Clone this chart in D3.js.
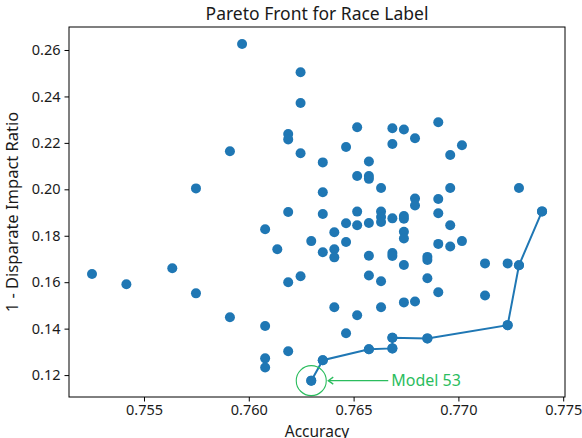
<!DOCTYPE html>
<html>
<head>
<meta charset="utf-8">
<script src="https://cdn.jsdelivr.net/npm/d3@7"></script>
<style>
  html, body { margin: 0; padding: 0; background: #fff; }
  svg { display: block; }
  .tick text { font-family: "Noto Sans", sans-serif; font-size: 14.5px; fill: #1a1a1a; }
</style>
</head>
<body>
<svg id="chart" width="582" height="438"></svg>
<script>
// Accuracy and (1 - disparate impact ratio) for every evaluated model
const accuracy = [
  0.75968, 0.76247, 0.76247, 0.76188, 0.76188, 0.75910, 0.76247, 0.75748, 0.76188, 0.76353,
  0.76464, 0.76353, 0.76353, 0.76517, 0.76685, 0.76740, 0.76904, 0.76793, 0.76685, 0.76961,
  0.77017, 0.76573, 0.76517, 0.76573, 0.76573, 0.76631, 0.76961, 0.77289, 0.76793, 0.76793,
  0.76904, 0.76517, 0.76631, 0.76631, 0.76631, 0.76904, 0.77399, 0.76464, 0.76517, 0.76573,
  0.76685, 0.76740, 0.76740, 0.76961, 0.76078, 0.76408, 0.76740, 0.76740, 0.76298, 0.76464,
  0.76904, 0.76961, 0.77017, 0.76136, 0.76408, 0.76353, 0.76408, 0.76573, 0.76685, 0.76685,
  0.76852, 0.76852, 0.76740, 0.77127, 0.77235, 0.77289, 0.75252, 0.75635, 0.75416, 0.75748,
  0.76247, 0.76188, 0.76573, 0.76631, 0.76852, 0.76904, 0.77127, 0.76740, 0.76793, 0.76631,
  0.76408, 0.76517, 0.75910, 0.76078, 0.77235, 0.76464, 0.76685, 0.76852, 0.76188, 0.76573,
  0.76685, 0.76078, 0.76078, 0.76353, 0.76298
];
const disparity = [
  0.2626, 0.2504, 0.2372, 0.2238, 0.2215, 0.2164, 0.2155, 0.2004, 0.1902, 0.2116,
  0.2182, 0.1987, 0.1894, 0.2267, 0.2263, 0.2258, 0.2289, 0.2220, 0.2195, 0.2148,
  0.2190, 0.2120, 0.2057, 0.2057, 0.2045, 0.2006, 0.2006, 0.2006, 0.1960, 0.1930,
  0.1958, 0.1904, 0.1904, 0.1881, 0.1859, 0.1897, 0.1905, 0.1854, 0.1845, 0.1855,
  0.1875, 0.1885, 0.1873, 0.1845, 0.1828, 0.1815, 0.1817, 0.1788, 0.1777, 0.1773,
  0.1765, 0.1754, 0.1777, 0.1742, 0.1742, 0.1729, 0.1707, 0.1714, 0.1726, 0.1713,
  0.1709, 0.1696, 0.1674, 0.1681, 0.1681, 0.1673, 0.1635, 0.1660, 0.1591, 0.1552,
  0.1626, 0.1600, 0.1629, 0.1604, 0.1617, 0.1557, 0.1543, 0.1513, 0.1517, 0.1492,
  0.1492, 0.1458, 0.1449, 0.1411, 0.1415, 0.1380, 0.1361, 0.1358, 0.1303, 0.1311,
  0.1315, 0.1272, 0.1233, 0.1264, 0.1176
];

// Non-dominated models, ordered by accuracy
const paretoAccuracy  = [0.76298, 0.76353, 0.76573, 0.76685, 0.76685, 0.76852, 0.77235, 0.77289, 0.77399];
const paretoDisparity = [0.1176, 0.1264, 0.1311, 0.1315, 0.1361, 0.1358, 0.1415, 0.1673, 0.1905];

// Highlighted model
const highlightLabel = "Model 53";
const highlightAccuracy = 0.76298;
const highlightDisparity = 0.1176;

const xTicks = [0.755, 0.760, 0.765, 0.770, 0.775];
const yTicks = [0.12, 0.14, 0.16, 0.18, 0.20, 0.22, 0.24, 0.26];

const titleText = "Pareto Front for Race Label";
const xLabel = "Accuracy";
const yLabel = "1 - Disparate Impact Ratio";

const W = 582, H = 438;
const margin = { left: 69, right: 17, top: 27, bottom: 41 };
const plotW = W - margin.left - margin.right;
const plotH = H - margin.top - margin.bottom;

const blue = "#1f77b4";
const green = "#2bbd5e";
const ink = "#1a1a1a";
const font = "'Noto Sans', sans-serif";

const svg = d3.select("#chart");
svg.append("rect").attr("width", W).attr("height", H).attr("fill", "#fff");

const x = d3.scaleLinear().domain([0.751422, 0.775086]).range([margin.left, margin.left + plotW]);
const y = d3.scaleLinear().domain([0.110560, 0.269905]).range([margin.top + plotH, margin.top]);

// Axes
const xAxis = d3.axisBottom(x).tickValues(xTicks).tickFormat(d3.format(".3f"))
  .tickSize(4.5).tickSizeOuter(0).tickPadding(3.5);
const yAxis = d3.axisLeft(y).tickValues(yTicks).tickFormat(d3.format(".2f"))
  .tickSize(4.5).tickSizeOuter(0).tickPadding(4);

const gx = svg.append("g").attr("transform", `translate(0,${margin.top + plotH})`).call(xAxis);
const gy = svg.append("g").attr("transform", `translate(${margin.left},0)`).call(yAxis);
[gx, gy].forEach(g => {
  g.select(".domain").remove();
  g.selectAll(".tick line").attr("stroke", "#000").attr("stroke-width", 1);
});

// Pareto front line
const line = d3.line().x(d => x(d[0])).y(d => y(d[1]));
svg.append("path")
  .datum(paretoAccuracy.map((a, i) => [a, paretoDisparity[i]]))
  .attr("d", line)
  .attr("fill", "none")
  .attr("stroke", blue)
  .attr("stroke-width", 2);

// All models
svg.append("g").selectAll("circle")
  .data(accuracy.map((a, i) => [a, disparity[i]]))
  .join("circle")
  .attr("cx", d => x(d[0]))
  .attr("cy", d => y(d[1]))
  .attr("r", 5)
  .attr("fill", blue);

// Pareto points drawn on top of the line
svg.append("g").selectAll("circle")
  .data(paretoAccuracy.map((a, i) => [a, paretoDisparity[i]]))
  .join("circle")
  .attr("cx", d => x(d[0]))
  .attr("cy", d => y(d[1]))
  .attr("r", 5)
  .attr("fill", blue);

// Highlight ring and annotation arrow
const hx = x(highlightAccuracy), hy = y(highlightDisparity);
svg.append("circle")
  .attr("cx", hx).attr("cy", hy).attr("r", 15)
  .attr("fill", "none").attr("stroke", green).attr("stroke-width", 1.1);

const tipX = hx + 17, textX = hx + 80;
svg.append("line")
  .attr("x1", textX - 3).attr("y1", hy).attr("x2", tipX).attr("y2", hy)
  .attr("stroke", green).attr("stroke-width", 1.3);
svg.append("path")
  .attr("d", `M${tipX + 5},${hy - 3.5} L${tipX},${hy} L${tipX + 5},${hy + 3.5}`)
  .attr("fill", "none").attr("stroke", green).attr("stroke-width", 1.3);
svg.append("text")
  .attr("x", textX).attr("y", hy)
  .attr("dy", "0.36em")
  .attr("font-family", font)
  .attr("font-size", 16)
  .attr("fill", green)
  .text(highlightLabel);

// Frame
svg.append("rect")
  .attr("x", margin.left).attr("y", margin.top)
  .attr("width", plotW).attr("height", plotH)
  .attr("fill", "none").attr("stroke", "#000").attr("stroke-width", 1);

// Title and axis labels
svg.append("text")
  .attr("x", margin.left + plotW / 2).attr("y", 20)
  .attr("text-anchor", "middle")
  .attr("font-family", font)
  .attr("font-size", 17.5)
  .attr("fill", ink)
  .text(titleText);

svg.append("text")
  .attr("x", margin.left + plotW / 2).attr("y", 437)
  .attr("text-anchor", "middle")
  .attr("font-family", font)
  .attr("font-size", 15.5)
  .attr("fill", ink)
  .text(xLabel);

svg.append("text")
  .attr("transform", `translate(18,${margin.top + plotH / 2}) rotate(-90)`)
  .attr("text-anchor", "middle")
  .attr("font-family", font)
  .attr("font-size", 16.5)
  .attr("fill", ink)
  .text(yLabel);
</script>
</body>
</html>
